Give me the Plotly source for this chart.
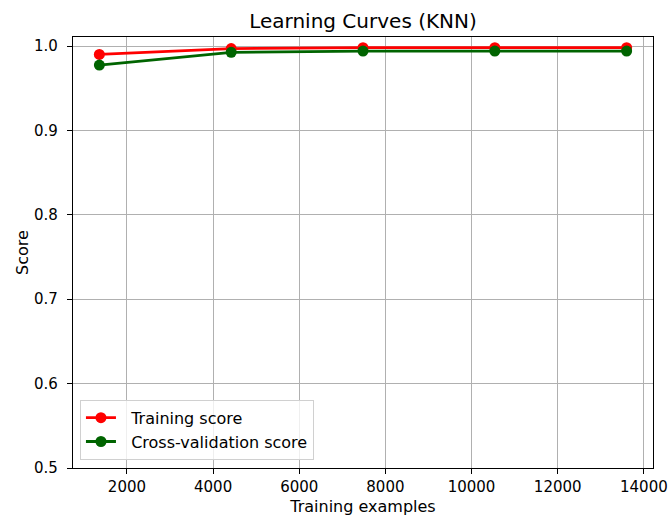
import plotly.graph_objects as go

# Learning-curve data for the KNN model
train_sizes = [1360, 4420, 7480, 10540, 13600]
train_scores = [0.990, 0.997, 0.998, 0.998, 0.998]
cv_scores = [0.9775, 0.9925, 0.994, 0.994, 0.994]

x_ticks = [2000, 4000, 6000, 8000, 10000, 12000, 14000]
y_ticks = [0.5, 0.6, 0.7, 0.8, 0.9, 1.0]

FONT = "DejaVu Sans"
GAP = "\u00a0\u00a0"  # a little extra room between legend symbol and label

fig = go.Figure()
fig.add_trace(go.Scatter(
    x=train_sizes, y=train_scores, mode="lines+markers",
    name=GAP + "Training score",
    line=dict(color="#ff0000", width=2.8),
    marker=dict(color="#ff0000", size=11),
))
fig.add_trace(go.Scatter(
    x=train_sizes, y=cv_scores, mode="lines+markers",
    name=GAP + "Cross-validation score",
    line=dict(color="#006400", width=2.8),
    marker=dict(color="#006400", size=11),
))

axis_common = dict(
    showline=True, linecolor="black", linewidth=1.2, mirror=True,
    ticks="outside", ticklen=5, tickcolor="black", tickwidth=1,
    showgrid=True, gridcolor="#b0b0b0", gridwidth=1,
    zeroline=False, automargin=False,
    tickfont=dict(family=FONT, size=15, color="black"),
)

fig.update_layout(
    width=670, height=519,
    margin=dict(l=73, r=17, t=37, b=51),
    paper_bgcolor="white", plot_bgcolor="white",
    font=dict(family=FONT, color="black"),
    title=dict(text="Learning Curves (KNN)", x=0.5, xanchor="center",
               xref="paper", y=(519 - 21) / 519, yref="container",
               yanchor="middle",
               font=dict(family=FONT, size=20, color="black")),
    xaxis=dict(range=[748, 14212], tickvals=x_ticks, tickformat="d",
               title=dict(text="Training examples", standoff=5,
                          font=dict(family=FONT, size=16)),
               **axis_common),
    yaxis=dict(range=[0.5, 1.0107], tickvals=y_ticks,
               tickformat=".1f", ticklabelstandoff=6,
               title=dict(text="Score", standoff=1,
                          font=dict(family=FONT, size=16)),
               **axis_common),
    legend=dict(x=0.012, y=0.019, xanchor="left", yanchor="bottom",
                bgcolor="rgba(255,255,255,0.8)", bordercolor="#d0d0d0",
                borderwidth=1, font=dict(family=FONT, size=16),
                tracegroupgap=0),
    showlegend=True,
)

fig.write_html("out.html")
